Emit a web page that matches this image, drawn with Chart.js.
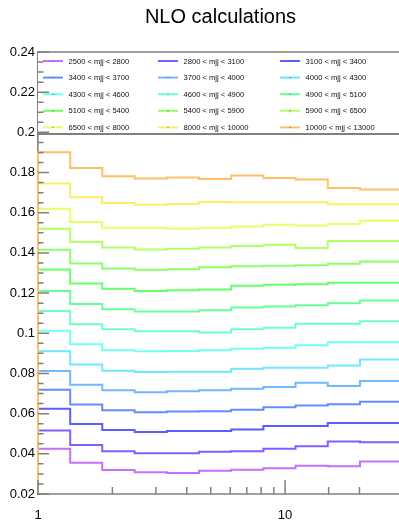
<!DOCTYPE html>
<html>
<head>
<meta charset="utf-8">
<title>NLO calculations</title>
<script src="https://cdn.jsdelivr.net/npm/chart.js@4.4.1/dist/chart.umd.min.js"></script>
<style>
  html, body { margin: 0; padding: 0; background: #fff; overflow: hidden; }
  canvas { display: block; }
</style>
</head>
<body>
<canvas id="nloChart" width="403" height="520"></canvas>
<script>
// chi bin edges, log x axis
const chiEdges = [1, 1.35, 1.82, 2.46, 3.32, 4.48, 6.05, 8.17, 11.02, 14.88, 20.09, 30];

const mjjRanges = [
    '2500 < mjj < 2800', '2800 < mjj < 3100', '3100 < mjj < 3400',
    '3400 < mjj < 3700', '3700 < mjj < 4000', '4000 < mjj < 4300',
    '4300 < mjj < 4600', '4600 < mjj < 4900', '4900 < mjj < 5100',
    '5100 < mjj < 5400', '5400 < mjj < 5900', '5900 < mjj < 6500',
    '6500 < mjj < 8000', '8000 < mjj < 10000', '10000 < mjj < 13000'
];

// one value per chi bin (11 bins)
const mjj2500 = [0.0425, 0.0355, 0.0320, 0.0308, 0.0305, 0.0316, 0.0321, 0.0328, 0.0341, 0.0338, 0.0362];
const mjj2800 = [0.0516, 0.0444, 0.0413, 0.0403, 0.0403, 0.0410, 0.0413, 0.0425, 0.0438, 0.0461, 0.0458];
const mjj3100 = [0.0624, 0.0549, 0.0519, 0.0509, 0.0513, 0.0513, 0.0521, 0.0538, 0.0538, 0.0553, 0.0553];
const mjj3400 = [0.0719, 0.0646, 0.0617, 0.0607, 0.0611, 0.0612, 0.0619, 0.0632, 0.0641, 0.0647, 0.0659];
const mjj3700 = [0.0812, 0.0744, 0.0716, 0.0707, 0.0711, 0.0716, 0.0724, 0.0732, 0.0754, 0.0737, 0.0762];
const mjj4000 = [0.0910, 0.0844, 0.0814, 0.0807, 0.0809, 0.0809, 0.0824, 0.0829, 0.0829, 0.0839, 0.0869];
const mjj4300 = [0.1012, 0.0945, 0.0915, 0.0910, 0.0912, 0.0915, 0.0923, 0.0928, 0.0940, 0.0955, 0.0955];
const mjj4600 = [0.1111, 0.1045, 0.1020, 0.1010, 0.1010, 0.1004, 0.1020, 0.1027, 0.1048, 0.1048, 0.1060];
const mjj4900 = [0.1211, 0.1146, 0.1120, 0.1108, 0.1108, 0.1115, 0.1128, 0.1133, 0.1140, 0.1150, 0.1163];
const mjj5100 = [0.1318, 0.1248, 0.1221, 0.1211, 0.1214, 0.1218, 0.1236, 0.1241, 0.1244, 0.1251, 0.1251];
const mjj5400 = [0.1416, 0.1347, 0.1323, 0.1316, 0.1319, 0.1329, 0.1333, 0.1336, 0.1339, 0.1346, 0.1357];
const mjj5900 = [0.1520, 0.1454, 0.1427, 0.1417, 0.1421, 0.1427, 0.1434, 0.1441, 0.1424, 0.1459, 0.1459];
const mjj6500 = [0.1620, 0.1554, 0.1525, 0.1525, 0.1522, 0.1525, 0.1532, 0.1540, 0.1537, 0.1544, 0.1560];
const mjj8000 = [0.1745, 0.1677, 0.1648, 0.1640, 0.1643, 0.1653, 0.1652, 0.1652, 0.1652, 0.1642, 0.1642];
const mjj10000 = [0.1901, 0.1823, 0.1781, 0.1770, 0.1775, 0.1768, 0.1785, 0.1773, 0.1765, 0.1723, 0.1715];

const seriesValues = [mjj2500, mjj2800, mjj3100, mjj3400, mjj3700, mjj4000, mjj4300, mjj4600,
    mjj4900, mjj5100, mjj5400, mjj5900, mjj6500, mjj8000, mjj10000];

const seriesColors = [
    'hsl(275,100%,72%)', 'hsl(255,100%,68%)', 'hsl(240,100%,68%)', 'hsl(225,100%,70%)',
    'hsl(210,100%,72%)', 'hsl(190,100%,72%)', 'hsl(175,100%,72%)', 'hsl(155,100%,72%)',
    'hsl(140,100%,70%)', 'hsl(120,100%,70%)', 'hsl(105,100%,70%)', 'hsl(90,100%,70%)',
    'hsl(70,100%,70%)', 'hsl(52,100%,70%)', 'hsl(35,100%,70%)'
];

const yTickValues = [0.02, 0.04, 0.06, 0.08, 0.1, 0.12, 0.14, 0.16, 0.18, 0.2, 0.22, 0.24];
const yTickLabels = ['0.02', '0.04', '0.06', '0.08', '0.1', '0.12', '0.14', '0.16', '0.18', '0.2', '0.22', '0.24'];
const xTickValues = [1, 10];
const xTickLabels = ['1', '10'];

const yMin = 0.02, yMax = 0.24;
const xMin = 1, xMax = 30;
const titleText = 'NLO calculations';

const FONT = '"Liberation Sans", Arial, Helvetica, sans-serif';
const AXIS_GREY = '#808080';

function findLabel(values, labels, v) {
    const i = values.findIndex(t => Math.abs(t - v) < 1e-9);
    return i >= 0 ? labels[i] : '';
}

// histogram outline: rises from the axis floor, steps through the bins, drops at the end
function histPoints(values) {
    const last = chiEdges.length - 1;
    const pts = [{ x: chiEdges[0], y: yMin }];
    values.forEach((v, i) => pts.push({ x: chiEdges[i], y: v }));
    pts.push({ x: chiEdges[last], y: values[values.length - 1] });
    pts.push({ x: chiEdges[last], y: yMin });
    return pts;
}

// ROOT-like frame: title, legend box, inward ticks
const rootFrame = {
    id: 'rootFrame',
    afterDatasetsDraw(chart) {
        const { ctx, chartArea: a, scales: { x, y } } = chart;
        ctx.save();

        // legend box
        const boxTop = a.top, boxBottom = 134;
        ctx.fillStyle = '#fff';
        ctx.fillRect(a.left, boxTop, a.right - a.left, boxBottom - boxTop);
        ctx.strokeStyle = AXIS_GREY;
        ctx.lineWidth = 2;
        ctx.beginPath();
        ctx.moveTo(a.left, boxBottom);
        ctx.lineTo(a.right, boxBottom);
        ctx.stroke();

        const colX = [43, 158, 280];
        const rowY = [61, 77.6, 94.2, 110.8, 127.4];
        ctx.font = '7.6px ' + FONT;
        ctx.textBaseline = 'middle';
        ctx.textAlign = 'left';
        chart.data.datasets.forEach((ds, i) => {
            const cx = colX[i % 3], cy = rowY[Math.floor(i / 3)];
            ctx.strokeStyle = ds.borderColor;
            ctx.lineWidth = 2;
            ctx.beginPath();
            ctx.moveTo(cx, cy);
            ctx.lineTo(cx + 20, cy);
            ctx.stroke();
            ctx.fillStyle = '#555';
            ctx.fillRect(cx + 9.5, cy - 0.5, 1, 1);
            ctx.fillStyle = '#111';
            ctx.fillText(ds.label, cx + 25.5, cy + 0.5);
        });

        // frame lines
        ctx.strokeStyle = AXIS_GREY;
        ctx.lineWidth = 1.6;
        ctx.beginPath();
        ctx.moveTo(a.left, a.bottom);
        ctx.lineTo(a.right, a.bottom);
        ctx.moveTo(a.left, a.top);
        ctx.lineTo(a.right, a.top);
        ctx.stroke();

        // ticks pointing into the frame
        ctx.lineWidth = 1.5;
        ctx.beginPath();
        y.ticks.forEach(t => {
            const py = y.getPixelForValue(t.value);
            const len = findLabel(yTickValues, yTickLabels, t.value) ? 11 : 5.5;
            ctx.moveTo(a.left, py);
            ctx.lineTo(a.left + len, py);
        });
        x.ticks.forEach(t => {
            const px = x.getPixelForValue(t.value);
            const exp = Math.log10(t.value);
            const len = Math.abs(exp - Math.round(exp)) < 1e-9 ? 14 : 7;
            ctx.moveTo(px, a.bottom);
            ctx.lineTo(px, a.bottom - len);
        });
        ctx.stroke();
        ctx.restore();
    },
    afterDraw(chart) {
        const { ctx, chartArea: a } = chart;
        ctx.save();
        ctx.font = '20px ' + FONT;
        ctx.fillStyle = '#000';
        ctx.textAlign = 'center';
        ctx.textBaseline = 'alphabetic';
        ctx.fillText(titleText, (a.left + a.right) / 2, 23);
        ctx.restore();
    }
};

Chart.defaults.font.family = FONT;

const datasets = seriesValues.map((vals, i) => ({
    label: mjjRanges[i],
    data: histPoints(vals),
    borderColor: seriesColors[i],
    borderWidth: 2,
    pointRadius: 0,
    stepped: 'before',
    fill: false,
    clip: false,
    // later (higher mjj) series drawn on top, like ROOT
    order: seriesValues.length - i
}));

new Chart(document.getElementById('nloChart'), {
    type: 'line',
    data: { datasets },
    plugins: [rootFrame],
    options: {
        responsive: false,
        animation: false,
        events: [],
        layout: { padding: { top: 52, left: 0, right: 0, bottom: 0 } },
        plugins: {
            legend: { display: false },
            tooltip: { enabled: false },
            title: { display: false }
        },
        scales: {
            x: {
                type: 'logarithmic',
                min: xMin,
                max: xMax,
                grid: { display: false, drawTicks: false },
                border: { display: false },
                ticks: {
                    autoSkip: false,
                    maxRotation: 0,
                    padding: 14,
                    color: '#000',
                    font: { size: 13 },
                    callback: (v) => findLabel(xTickValues, xTickLabels, v)
                },
                afterFit(scale) {
                    scale.height = 26;
                    scale.paddingLeft = 0;
                    scale.paddingRight = 0;
                }
            },
            y: {
                type: 'linear',
                min: yMin,
                max: yMax,
                grid: { display: false, drawTicks: false },
                border: { display: true, color: AXIS_GREY, width: 1.6 },
                ticks: {
                    stepSize: 0.005,
                    autoSkip: false,
                    padding: 3,
                    color: '#000',
                    font: { size: 13 },
                    callback: (v) => findLabel(yTickValues, yTickLabels, v)
                },
                afterFit(scale) {
                    scale.width = 38;
                    scale.paddingTop = 0;
                    scale.paddingBottom = 0;
                }
            }
        }
    }
});
</script>
</body>
</html>
